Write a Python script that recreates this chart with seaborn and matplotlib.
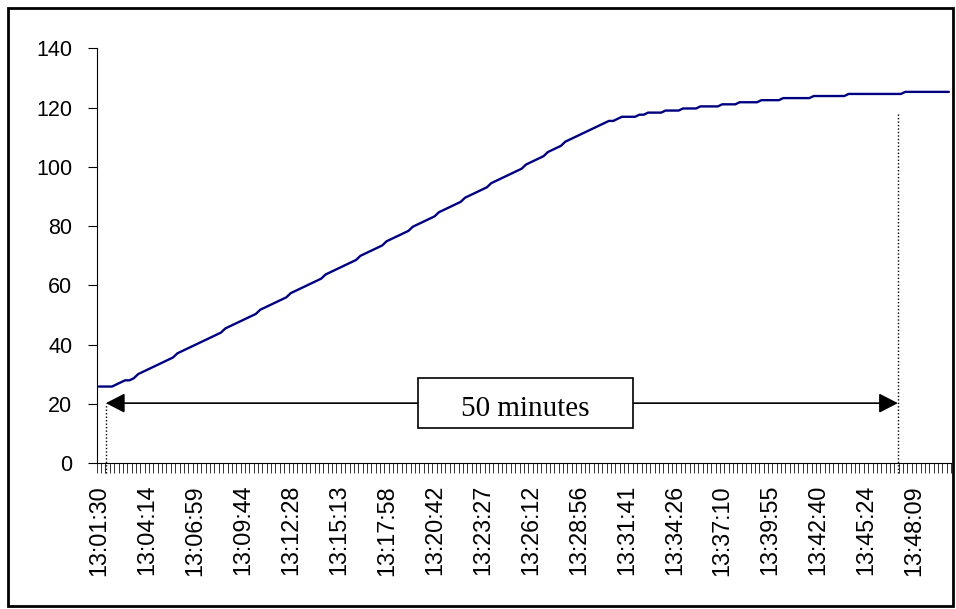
import numpy as np
import pandas as pd
import matplotlib.pyplot as plt
from matplotlib.patches import Rectangle
import seaborn as sns

# one label every 11 samples (~15 s per sample)
time_labels = ['13:01:30', '13:04:14', '13:06:59', '13:09:44', '13:12:28', '13:15:13',
               '13:17:58', '13:20:42', '13:23:27', '13:26:12', '13:28:56', '13:31:41',
               '13:34:26', '13:37:10', '13:39:55', '13:42:40', '13:45:24', '13:48:09']
label_step = 11

temps = [
    25.9, 25.9, 25.9, 25.9, 26.6, 27.3, 28.0, 28.0, 28.7, 30.1,
    30.8, 31.5, 32.2, 32.9, 33.6, 34.3, 35.0, 35.7, 37.1, 37.8,
    38.5, 39.2, 39.9, 40.6, 41.3, 42.0, 42.7, 43.4, 44.1, 45.5,
    46.2, 46.9, 47.6, 48.3, 49.0, 49.7, 50.4, 51.8, 52.5, 53.2,
    53.9, 54.6, 55.3, 56.0, 57.4, 58.1, 58.8, 59.5, 60.2, 60.9,
    61.6, 62.3, 63.7, 64.4, 65.1, 65.8, 66.5, 67.2, 67.9, 68.6,
    70.0, 70.7, 71.4, 72.1, 72.8, 73.5, 74.9, 75.6, 76.3, 77.0,
    77.7, 78.4, 79.8, 80.5, 81.2, 81.9, 82.6, 83.3, 84.7, 85.4,
    86.1, 86.8, 87.5, 88.2, 89.6, 90.3, 91.0, 91.7, 92.4, 93.1,
    94.5, 95.2, 95.9, 96.6, 97.3, 98.0, 98.7, 99.4, 100.8, 101.5,
    102.2, 102.9, 103.6, 105.0, 105.7, 106.4, 107.1, 108.5, 109.2, 109.9,
    110.6, 111.3, 112.0, 112.7, 113.4, 114.1, 114.8, 115.5, 115.5, 116.2,
    116.9, 116.9, 116.9, 116.9, 117.6, 117.6, 118.3, 118.3, 118.3, 118.3,
    119.0, 119.0, 119.0, 119.0, 119.7, 119.7, 119.7, 119.7, 120.4, 120.4,
    120.4, 120.4, 120.4, 121.1, 121.1, 121.1, 121.1, 121.8, 121.8, 121.8,
    121.8, 121.8, 122.5, 122.5, 122.5, 122.5, 122.5, 123.2, 123.2, 123.2,
    123.2, 123.2, 123.2, 123.2, 123.9, 123.9, 123.9, 123.9, 123.9, 123.9,
    123.9, 123.9, 124.6, 124.6, 124.6, 124.6, 124.6, 124.6, 124.6, 124.6,
    124.6, 124.6, 124.6, 124.6, 124.6, 125.3, 125.3, 125.3, 125.3, 125.3,
    125.3, 125.3, 125.3, 125.3, 125.3, 125.3,
]

# the "50 minutes" marker (sample positions) and its height
mark_start = 1.6
mark_end = 183.3
mark_top = 118.6
arrow_y = 20.3
mark_text = '50 minutes'

n = len(temps)
df = pd.DataFrame({'sample': np.arange(n), 'value': temps})

sns.set_style('white')
plt.rcParams['font.family'] = ['Liberation Sans', 'DejaVu Sans']
plt.rcParams['text.color'] = 'black'
plt.rcParams['xtick.color'] = 'black'
plt.rcParams['ytick.color'] = 'black'

fig = plt.figure(figsize=(9.56, 6.09), dpi=100)
ax = fig.add_axes([0.1012, 0.2392, 0.8936, 0.6815])

sns.lineplot(data=df, x='sample', y='value', color='#000080', linewidth=1.7, ax=ax)

ax.set_xlim(-0.5, n - 0.5)
ax.set_ylim(0, 140)
ax.set_yticks(range(0, 141, 20))
ax.set_xticks(np.arange(0, n, label_step))
ax.set_xticklabels(time_labels, rotation=90, fontsize=16.8)
ax.set_xticks(np.arange(-0.5, n, 1), minor=True)
ax.tick_params(axis='x', which='major', bottom=True, length=0, pad=15.6)
ax.tick_params(axis='x', which='minor', bottom=True, length=7.2, width=0.7,
               color='#333333', direction='out')
ax.tick_params(axis='y', which='major', left=True, length=6.5, width=0.8,
               color='black', pad=11, labelsize=15.5)
ax.set_xlabel('')
ax.set_ylabel('')
sns.despine(ax=ax)
for s in ['left', 'bottom']:
    ax.spines[s].set_color('black')
    ax.spines[s].set_linewidth(0.8)

# dotted markers
ax.plot([mark_start, mark_start], [-3.3, arrow_y], color='black', lw=1,
        linestyle=(0, (1, 1.5)), clip_on=False)
ax.plot([mark_end, mark_end], [-3.3, mark_top], color='black', lw=1,
        linestyle=(0, (1, 1.5)), clip_on=False)

# double arrow
ax.annotate('', xy=(mark_start, arrow_y), xytext=(mark_end, arrow_y),
            arrowprops=dict(arrowstyle='<|-|>,head_length=0.58,head_width=0.3',
                            mutation_scale=20, color='black', lw=1.2,
                            shrinkA=0, shrinkB=0))

# text box
box_cx = 97.9
box_w = 49.3
box_h = 16.9
ax.add_patch(Rectangle((box_cx - box_w / 2, arrow_y - box_h / 2), box_w, box_h,
                       facecolor='white', edgecolor='black', lw=1.2, zorder=5))
ax.text(box_cx, 15.8, mark_text, ha='center', va='baseline', fontsize=21,
        family=['Liberation Serif', 'DejaVu Serif'], zorder=6)

# outer frame
fig.add_artist(Rectangle((8 / 956, 3 / 609), 945 / 956, 598 / 609,
                         transform=fig.transFigure, fill=False,
                         edgecolor='black', lw=2))

fig.savefig('out.png', dpi=100)
